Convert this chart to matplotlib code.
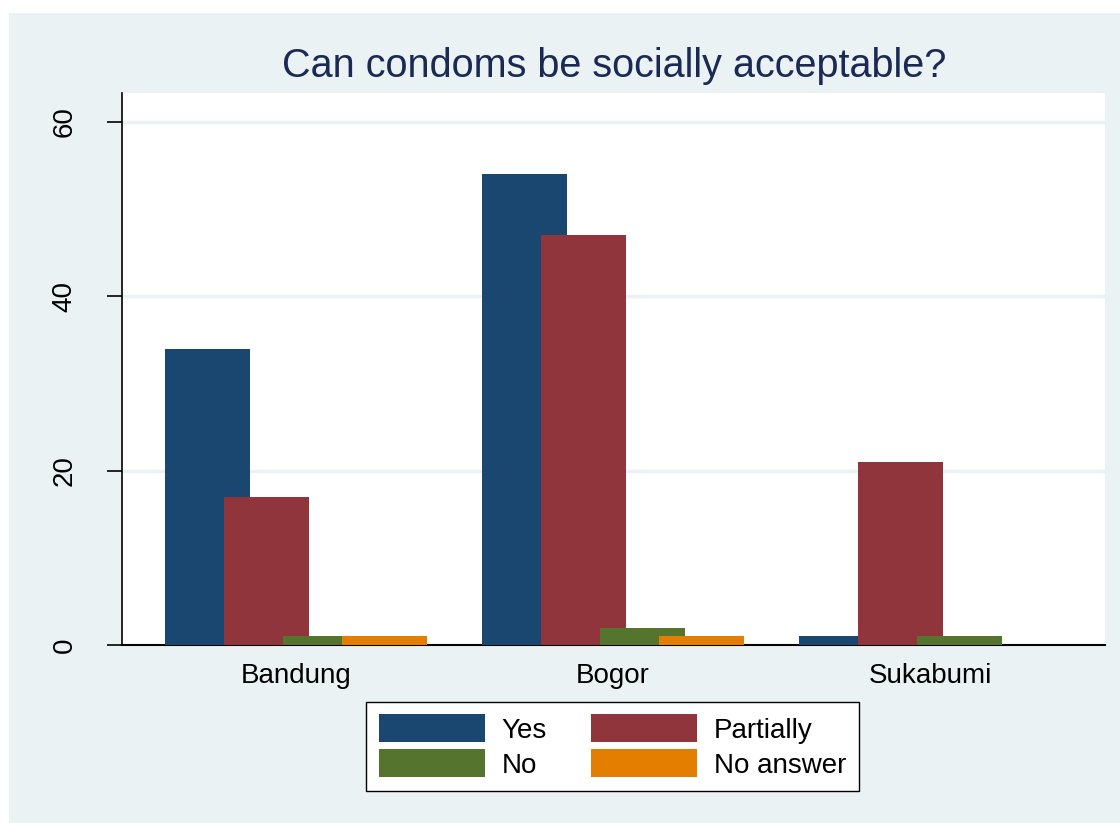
import numpy as np
import matplotlib.pyplot as plt
from matplotlib.patches import Rectangle

plt.rcParams['font.family'] = ['Liberation Sans', 'DejaVu Sans']

# Datos
cities = ['Bandung', 'Bogor', 'Sukabumi']
answers = ['Yes', 'Partially', 'No', 'No answer']
yes = [34, 54, 1]
partially = [17, 47, 21]
no = [1, 2, 1]
no_answer = [1, 1, 0]
y_ticks = [0, 20, 40, 60]

colors = ['#1A476F', '#90353B', '#55752F', '#E37E00']
bg = '#EAF2F3'

fig = plt.figure(figsize=(11.2, 8.23), dpi=100)
fig.patch.set_facecolor('white')
fig.patches.append(Rectangle((9 / 1120, 0), 1 - 9 / 1120, 1 - 13 / 823,
                             transform=fig.transFigure, facecolor=bg,
                             edgecolor='none', zorder=-10))

ax = fig.add_axes([122 / 1120, 1 - 645 / 823, (1105 - 122) / 1120, (645 - 93) / 823])
ax.set_facecolor('white')

x = np.arange(len(cities))
step = 0.186
width = 0.268
series = [yes, partially, no, no_answer]
bars = []
for i, (vals, lab, col) in enumerate(zip(series, answers, colors)):
    b = ax.bar(x + (i - 1.5) * step, vals, width=width, color=col, label=lab,
               zorder=3 + i, linewidth=0)
    bars.append(b)

ax.set_xlim(-0.549, 2.552)
ax.set_ylim(0, 63.3)
ax.set_yticks(y_ticks)
ax.set_yticklabels([str(t) for t in y_ticks], rotation=90, va='center', fontsize=20)
ax.set_xticks(x)
ax.set_xticklabels(cities, fontsize=20)
ax.tick_params(axis='x', length=0, pad=13)
ax.tick_params(axis='y', length=11, width=1.2, pad=21)
for t in y_ticks[1:]:
    ax.axhline(t, color=bg, linewidth=2.5, zorder=1)
ax.spines['top'].set_visible(False)
ax.spines['right'].set_visible(False)
ax.spines['left'].set_linewidth(1.2)
ax.spines['bottom'].set_linewidth(1.5)

fig.text(614 / 1120, 1 - 66 / 823, 'Can condoms be socially acceptable?',
         ha='center', va='center', fontsize=28.5, color='#1A2A52')

# orden por filas: Yes, Partially / No, No answer
order = [0, 2, 1, 3]
leg = fig.legend([bars[k] for k in order], [answers[k] for k in order],
                 loc='center', bbox_to_anchor=(612.5 / 1120, 1 - 746.5 / 823),
                 ncol=2, fontsize=20, handlelength=3.81, handleheight=1.17,
                 frameon=True, fancybox=False, edgecolor='black',
                 framealpha=1, borderpad=0.45, columnspacing=1.6,
                 labelspacing=0.2, handletextpad=0.61)
leg.get_frame().set_linewidth(1.0)

fig.savefig('out.png', dpi=100, facecolor=fig.get_facecolor())
